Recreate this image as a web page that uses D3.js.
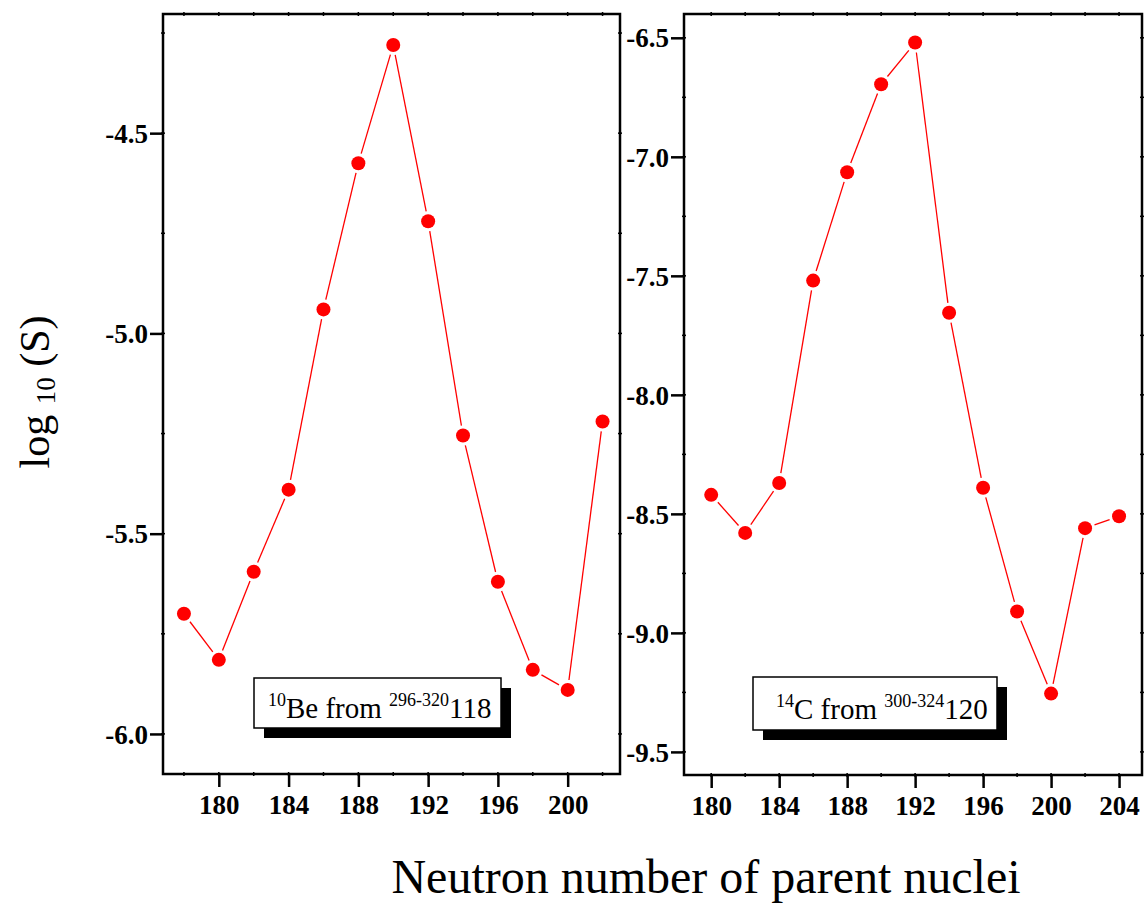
<!DOCTYPE html>
<html><head><meta charset="utf-8">
<script src="https://cdn.jsdelivr.net/npm/d3@7"></script>
<style>body{margin:0;background:#fff}svg{display:block}</style>
</head><body>
<svg id="chart" width="1146" height="905"></svg>
<script>
// ---- data ----
const neutronsBe = [178,180,182,184,186,188,190,192,194,196,198,200,202];
const logSBe = [-5.70,-5.815,-5.595,-5.39,-4.94,-4.575,-4.28,-4.72,-5.255,-5.62,-5.84,-5.89,-5.22];
const neutronsC = [180,182,184,186,188,190,192,194,196,198,200,202,204];
const logSC = [-8.42,-8.58,-8.37,-7.52,-7.065,-6.695,-6.52,-7.655,-8.39,-8.91,-9.255,-8.56,-8.51];
const xTicksBe = [180,184,188,192,196,200];
const xTicksC = [180,184,188,192,196,200,204];
const yTicksBe = [-4.5,-5.0,-5.5,-6.0];
const yTicksC = [-6.5,-7.0,-7.5,-8.0,-8.5,-9.0,-9.5];

const svg = d3.select("#chart");
const FONT = "'Liberation Serif','Times New Roman',serif";
const fmtY = v => d3.format(".1f")(v).replace("\u2212","-");

function panel(cfg){
  const x = d3.scaleLinear().domain(cfg.xdom).range([cfg.x0, cfg.x1]);
  const y = d3.scaleLinear().domain(cfg.ydom).range([cfg.y1, cfg.y0]);
  const g = svg.append("g");
  // minor ticks
  const xMinor = d3.range(Math.ceil(cfg.xdom[0]/2)*2, cfg.xdom[1]+0.01, 2);
  const yMinor = d3.range(Math.ceil(cfg.ydom[0]*4)/4, cfg.ydom[1]+0.001, 0.25);
  xMinor.forEach(v=>{
    [cfg.y0, cfg.y1].forEach(yy=>{
      g.append("line").attr("x1",x(v)).attr("x2",x(v)).attr("y1",yy-2).attr("y2",yy+2)
        .attr("stroke","#000").attr("stroke-width",1.5);
    });
  });
  yMinor.forEach(v=>{
    [cfg.x0, cfg.x1].forEach(xx=>{
      g.append("line").attr("y1",y(v)).attr("y2",y(v)).attr("x1",xx-2).attr("x2",xx+2)
        .attr("stroke","#000").attr("stroke-width",1.5);
    });
  });
  // axes (major ticks + labels)
  const xAxis = d3.axisBottom(x).tickValues(cfg.xticks).tickSize(13).tickSizeOuter(0).tickPadding(7).tickFormat(d3.format("d"));
  const yAxis = d3.axisLeft(y).tickValues(cfg.yticks).tickSize(13).tickSizeOuter(0).tickPadding(2).tickFormat(fmtY);
  const gx = g.append("g").attr("transform",`translate(0,${cfg.y1})`).call(xAxis);
  const gy = g.append("g").attr("transform",`translate(${cfg.x0},0)`).call(yAxis);
  [gx,gy].forEach(a=>{
    a.select(".domain").remove();
    a.selectAll(".tick line").attr("stroke","#000").attr("stroke-width",2.5);
    a.selectAll(".tick text").attr("fill","#000").style("font-family",FONT)
      .style("font-weight","bold").style("font-size","27px");
  });
  gy.selectAll(".tick text").attr("dy","0.34em");
  gx.selectAll(".tick text").attr("dy","0.74em");
  // frame
  g.append("rect").attr("x",cfg.x0).attr("y",cfg.y0).attr("width",cfg.x1-cfg.x0).attr("height",cfg.y1-cfg.y0)
    .attr("fill","none").attr("stroke","#000").attr("stroke-width",2.5);
  // line segments with gaps near markers
  const pts = cfg.xs.map((d,i)=>[x(d), y(cfg.ys[i])]);
  const gap = 10;
  for(let i=0;i<pts.length-1;i++){
    const [ax,ay]=pts[i],[bx,by]=pts[i+1];
    const dx=bx-ax, dy=by-ay, L=Math.hypot(dx,dy);
    if(L<=2*gap) continue;
    const ux=dx/L, uy=dy/L;
    g.append("line").attr("x1",ax+ux*gap).attr("y1",ay+uy*gap).attr("x2",bx-ux*gap).attr("y2",by-uy*gap)
      .attr("stroke","#ff0000").attr("stroke-width",1.3);
  }
  g.selectAll("circle.pt").data(cfg.xs.map((d,i)=>({n:d,v:cfg.ys[i]}))).enter().append("circle")
    .attr("cx",d=>x(d.n)).attr("cy",d=>y(d.v)).attr("r",7).attr("fill","#ff0000");
  // legend box
  const L = cfg.legend;
  g.append("rect").attr("x",L.x+10).attr("y",L.y+10).attr("width",L.w).attr("height",L.h).attr("fill","#000");
  g.append("rect").attr("x",L.x).attr("y",L.y).attr("width",L.w).attr("height",L.h)
    .attr("fill","#fff").attr("stroke","#000").attr("stroke-width",1.5);
  const t = g.append("text").attr("x",L.tx).attr("y",L.ty).style("font-family",FONT).style("font-size","29px").attr("fill","#000");
  t.append("tspan").text(L.sup1).style("font-size","18px").attr("dy",-12);
  t.append("tspan").text(L.txt1).attr("dy",12);
  t.append("tspan").text(L.sup2).style("font-size","18px").attr("dy",-12);
  t.append("tspan").text(L.txt2).attr("dy",12);
}

panel({x0:163,x1:620,y0:14,y1:774,xdom:[176.8,203],ydom:[-6.1,-4.2025],
  xticks:xTicksBe,yticks:yTicksBe,xs:neutronsBe,ys:logSBe,
  legend:{x:254,y:678,w:247,h:50,tx:268,ty:718,sup1:"10",txt1:"Be from ",sup2:"296-320",txt2:"118"}});
panel({x0:684,x1:1142,y0:14,y1:775,xdom:[178.4,205.35],ydom:[-9.597,-6.4],
  xticks:xTicksC,yticks:yTicksC,xs:neutronsC,ys:logSC,
  legend:{x:753,y:677,w:244,h:53,tx:776,ty:719,sup1:"14",txt1:"C from ",sup2:"300-324",txt2:"120"}});

// axis titles
const yt = svg.append("text").attr("transform","translate(49,392) rotate(-90)").attr("text-anchor","middle")
  .style("font-family",FONT).style("font-size","42px").attr("fill","#000");
yt.append("tspan").text("log ");
yt.append("tspan").text("10").style("font-size","27px").attr("dy",6);
yt.append("tspan").text(" (S)").attr("dy",-6);
svg.append("text").attr("x",706).attr("y",893).attr("text-anchor","middle")
  .style("font-family",FONT).style("font-size","48px").attr("fill","#000")
  .text("Neutron number of parent nuclei");
</script>
</body></html>
